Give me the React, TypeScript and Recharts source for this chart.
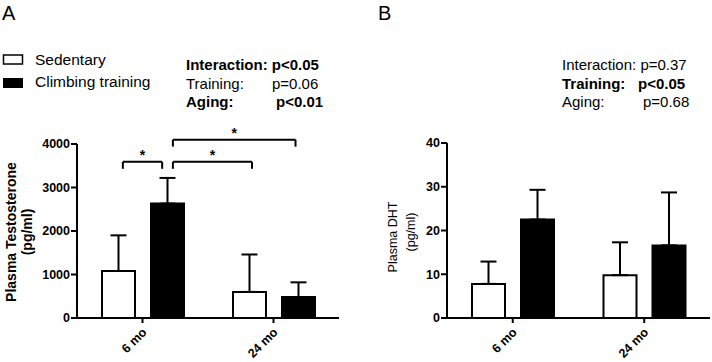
import React from 'react';
import {
  BarChart, Bar, XAxis, YAxis, ErrorBar, ReferenceLine, ReferenceDot,
} from 'recharts';

const groups = ['6 mo', '24 mo'];

// Plasma testosterone (pg/ml), mean and upper SD
const testoSed = [1080, 600];
const testoSedSd = [820, 860];
const testoClimb = [2630, 480];
const testoClimbSd = [590, 340];
const testoTicks = [0, 1000, 2000, 3000, 4000];

// Plasma DHT (pg/ml)
const dhtSed = [7.8, 9.8];
const dhtSedSd = [5.1, 7.5];
const dhtClimb = [22.5, 16.6];
const dhtClimbSd = [6.8, 12.1];
const dhtTicks = [0, 10, 20, 30, 40];

// significance brackets on panel A: ends as a fraction of the x axis, height in pg/ml
const bracketFrom = [0.175, 0.366, 0.366];
const bracketTo = [0.325, 0.668, 0.834];
const bracketLevel = [3590, 3590, 4100];
const bracketLeg = 160;

const FONT = "'Liberation Sans', Arial, sans-serif";

const makeRows = (sed: number[], sedSd: number[], climb: number[], climbSd: number[]) =>
  groups.map((g, i) => ({
    group: g,
    sed: sed[i],
    sedErr: [0, sedSd[i]],
    climb: climb[i],
    climbErr: [0, climbSd[i]],
  }));

const testoRows = makeRows(testoSed, testoSedSd, testoClimb, testoClimbSd);
const dhtRows = makeRows(dhtSed, dhtSedSd, dhtClimb, dhtClimbSd);

const SlantTick = (props: any) => {
  const { x, y, payload } = props;
  const ax = x + 5;
  const ay = y + 8;
  return (
    <text x={ax} y={ay} transform={`rotate(-45, ${ax}, ${ay})`} textAnchor="end"
      fontFamily={FONT} fontWeight="bold" fontSize={12.5} fill="#000">
      {payload.value}
    </text>
  );
};

const axisStroke = { stroke: '#000', strokeWidth: 2 };
const tickFont = { fontFamily: FONT, fontWeight: 'bold', fontSize: 12.5, fill: '#000' };

const Star = (props: any) => (
  <text x={props.cx} y={props.cy - 2} textAnchor="middle" fontFamily={FONT}
    fontWeight="bold" fontSize={14} fill="#000">*</text>
);

const bars = () => [
  <Bar key="sed" dataKey="sed" fill="#fff" stroke="#000" strokeWidth={2} isAnimationActive={false}>
    <ErrorBar dataKey="sedErr" direction="y" width={8} stroke="#000" strokeWidth={2} isAnimationActive={false} />
  </Bar>,
  <Bar key="climb" dataKey="climb" fill="#000" stroke="#000" strokeWidth={2} isAnimationActive={false}>
    <ErrorBar dataKey="climbErr" direction="y" width={8} stroke="#000" strokeWidth={2} isAnimationActive={false} />
  </Bar>,
];

const TestosteroneChart = () => (
  <BarChart width={356} height={362} data={testoRows} barSize={33} barGap={16}
    margin={{ top: 144, right: 17, bottom: 4, left: 0 }}>
    <XAxis dataKey="group" height={40} axisLine={axisStroke} tickLine={axisStroke}
      tickSize={5} tick={<SlantTick />} interval={0} />
    <XAxis xAxisId="pos" type="number" domain={[0, 1]} allowDataOverflow hide />
    <YAxis width={77} domain={[0, 4000]} ticks={testoTicks} axisLine={axisStroke}
      tickLine={axisStroke} tickSize={6} tickMargin={1} tick={tickFont} interval={0} />
    {bars()}
    {bracketFrom.map((from, i) => {
      const to = bracketTo[i];
      const lvl = bracketLevel[i];
      const segs = [
        [{ x: from, y: lvl - bracketLeg }, { x: from, y: lvl }],
        [{ x: from, y: lvl }, { x: to, y: lvl }],
        [{ x: to, y: lvl }, { x: to, y: lvl - bracketLeg }],
      ];
      return segs.map((seg, j) => (
        <ReferenceLine key={`b${i}-${j}`} xAxisId="pos" segment={seg} stroke="#000"
          strokeWidth={2} ifOverflow="visible" />
      ));
    })}
    {bracketFrom.map((from, i) => (
      <ReferenceDot key={`s${i}`} xAxisId="pos" x={(from + bracketTo[i]) / 2}
        y={bracketLevel[i]} r={0} ifOverflow="visible" shape={<Star />} />
    ))}
  </BarChart>
);

const DhtChart = () => (
  <BarChart width={356} height={362} data={dhtRows} barSize={33} barGap={16}
    margin={{ top: 143, right: 2, bottom: 4, left: 0 }}>
    <XAxis dataKey="group" height={40} axisLine={axisStroke} tickLine={axisStroke}
      tickSize={5} tick={<SlantTick />} interval={0} />
    <YAxis width={91} domain={[0, 40]} ticks={dhtTicks} axisLine={axisStroke}
      tickLine={axisStroke} tickSize={6} tickMargin={1} tick={tickFont} interval={0} />
    {bars()}
  </BarChart>
);

export default function App() {
  return (
    <div style={{ position: 'absolute', left: 0, top: 0, width: 712, height: 362, background: '#fff' }}>
      <div style={{ position: 'absolute', left: 0, top: 0 }}>
        <TestosteroneChart />
      </div>
      <div style={{ position: 'absolute', left: 356, top: 0 }}>
        <DhtChart />
      </div>
      <svg width={712} height={362} style={{ position: 'absolute', left: 0, top: 0, pointerEvents: 'none' }}
        fontFamily={FONT} fill="#000">
        <text x={2} y={20} fontSize={20}>A</text>
        <text x={378} y={20} fontSize={20}>B</text>

        {/* legend */}
        <rect x={3.5} y={55} width={19} height={9} fill="#fff" stroke="#000" strokeWidth={1.5} />
        <rect x={3} y={78} width={20} height={10} fill="#000" />
        <text x={35} y={65} fontSize={15.5}>Sedentary</text>
        <text x={35} y={86.5} fontSize={15.5}>Climbing training</text>

        {/* two-way ANOVA results */}
        <g fontSize={15}>
          <text x={186} y={70} fontWeight="bold">Interaction: p&lt;0.05</text>
          <text x={186} y={88.5}>Training:</text>
          <text x={272} y={88.5}>p=0.06</text>
          <text x={186} y={107} fontWeight="bold">Aging:</text>
          <text x={276} y={107} fontWeight="bold">p&lt;0.01</text>

          <text x={562} y={70}>Interaction: p=0.37</text>
          <text x={562} y={88.5} fontWeight="bold">Training:</text>
          <text x={638} y={88.5} fontWeight="bold">p&lt;0.05</text>
          <text x={562} y={107}>Aging:</text>
          <text x={643} y={107}>p=0.68</text>
        </g>

        {/* axis titles */}
        <text transform="translate(16, 232) rotate(-90)" textAnchor="middle" fontSize={14} fontWeight="bold">
          Plasma Testosterone
        </text>
        <text transform="translate(32, 232) rotate(-90)" textAnchor="middle" fontSize={14} fontWeight="bold">
          (pg/ml)
        </text>
        <text transform="translate(397, 237) rotate(-90)" textAnchor="middle" fontSize={12.5}>
          Plasma DHT
        </text>
        <text transform="translate(415, 232) rotate(-90)" textAnchor="middle" fontSize={12.5}>
          (pg/ml)
        </text>
      </svg>
    </div>
  );
}
